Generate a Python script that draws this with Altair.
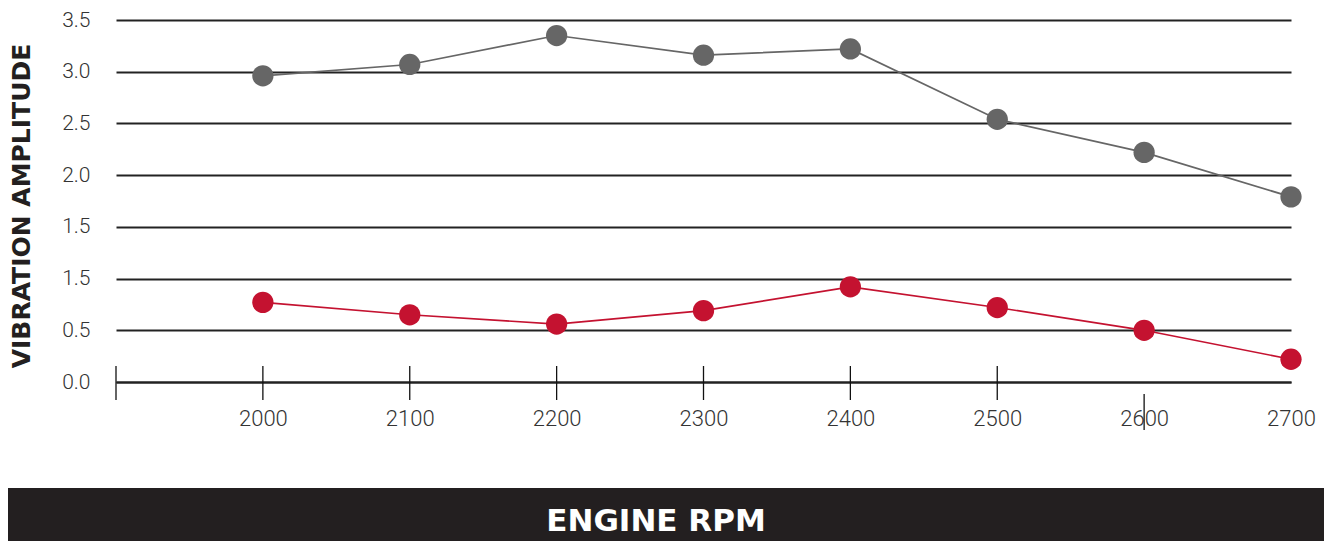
import altair as alt
import pandas as pd

# ---- data ----
rpm = [2000, 2100, 2200, 2300, 2400, 2500, 2600, 2700]
upper_series = [2.96, 3.07, 3.35, 3.16, 3.22, 2.54, 2.22, 1.79]
lower_series = [0.77, 0.65, 0.56, 0.69, 0.92, 0.72, 0.50, 0.22]
series_names = ["Upper", "Lower"]
series_colors = ["#666666", "#c41230"]

y_tick_values = [0.0, 0.5, 1.0, 1.5, 2.0, 2.5, 3.0, 3.5]
y_tick_labels = ["0.0", "0.5", "1.5", "1.5", "2.0", "2.5", "3.0", "3.5"]
x_tick_values = [1900, 2000, 2100, 2200, 2300, 2400, 2500]
x_tick_values_low = [2600]
x_label_values = [2000, 2100, 2200, 2300, 2400, 2500, 2600, 2700]
x_domain = [1900, 2700]
y_domain = [0, 3.5]

y_title = "VIBRATION AMPLITUDE"
x_title = "ENGINE RPM"

# ---- tables ----
df = pd.DataFrame({
    "rpm": rpm * 2,
    "value": upper_series + lower_series,
    "series": [series_names[0]] * len(rpm) + [series_names[1]] * len(rpm),
})
ticks_df = pd.DataFrame({"rpm": x_tick_values})
ticks_low_df = pd.DataFrame({"rpm": x_tick_values_low})
one = pd.DataFrame({"a": [0]})

label_expr = "''"
for v, l in reversed(list(zip(y_tick_values, y_tick_labels))):
    label_expr = f"abs(datum.value - {v}) < 0.01 ? '{l}' : ({label_expr})"

W, H = 1175, 362
LABEL_FONT = "Roboto"
BOLD_FONT = "DejaVu Sans"
DARK = "#231f20"

xscale = alt.Scale(domain=x_domain, nice=False, zero=False)
yscale = alt.Scale(domain=y_domain, nice=False, zero=False)
cscale = alt.Scale(domain=series_names, range=series_colors)

x_axis = alt.Axis(
    values=x_label_values, format="d", labelFlush=False, grid=False,
    domain=True, domainColor="#222222",
    domainWidth=1.8, ticks=False, tickSize=0, labelPadding=26,
    labelFontSize=22, labelFont=LABEL_FONT, labelFontWeight=300,
    labelColor="#333333", title=None,
)
y_axis = alt.Axis(
    values=y_tick_values, grid=True, gridColor="#222222", gridWidth=1.9,
    domain=False, ticks=False, tickSize=0, labelPadding=26,
    labelFontSize=21, labelFont=LABEL_FONT, labelFontWeight=300,
    labelColor="#333333", labelExpr=label_expr, title=None,
)

bar = alt.Chart(one).mark_rect(color=DARK).encode(
    x=alt.value(-108), x2=alt.value(1208), y=alt.value(468), y2=alt.value(528)
)

ticks = alt.Chart(ticks_df).mark_rule(color="#111111", strokeWidth=1.3).encode(
    x=alt.X("rpm:Q", scale=xscale, axis=x_axis),
    y=alt.value(346), y2=alt.value(380),
)
ticks_low = alt.Chart(ticks_low_df).mark_rule(color="#111111", strokeWidth=1.3).encode(
    x=alt.X("rpm:Q", scale=xscale, axis=x_axis),
    y=alt.value(374), y2=alt.value(410),
)

lines = alt.Chart(df).mark_line(strokeWidth=1.7).encode(
    x=alt.X("rpm:Q", scale=xscale, axis=x_axis),
    y=alt.Y("value:Q", scale=yscale, axis=y_axis),
    color=alt.Color("series:N", scale=cscale, legend=None),
    detail="series:N",
)
points = alt.Chart(df).mark_circle(size=452, opacity=1).encode(
    x=alt.X("rpm:Q", scale=xscale, axis=x_axis),
    y=alt.Y("value:Q", scale=yscale, axis=y_axis),
    color=alt.Color("series:N", scale=cscale, legend=None),
)

ytitle = alt.Chart(one).mark_text(
    text=y_title, font=BOLD_FONT, fontWeight="bold", fontSize=25, angle=270,
    color=DARK, align="center", baseline="middle",
).encode(x=alt.value(-94), y=alt.value(186))

xtitle = alt.Chart(one).mark_text(
    text=x_title, font=BOLD_FONT, fontWeight="bold", fontSize=31,
    color="#ffffff", align="center", baseline="middle",
).encode(x=alt.value(540), y=alt.value(502))

chart = alt.layer(bar, ticks, ticks_low, lines, points, ytitle, xtitle).properties(
    width=W, height=H,
    background="#ffffff",
    autosize=alt.AutoSizeParams(type="none"),
    padding={"left": 108, "top": 12, "right": 33, "bottom": 159},
).configure_view(stroke="transparent", strokeWidth=0)

chart.save("out.html", embed_options={"renderer": "svg", "actions": False})
